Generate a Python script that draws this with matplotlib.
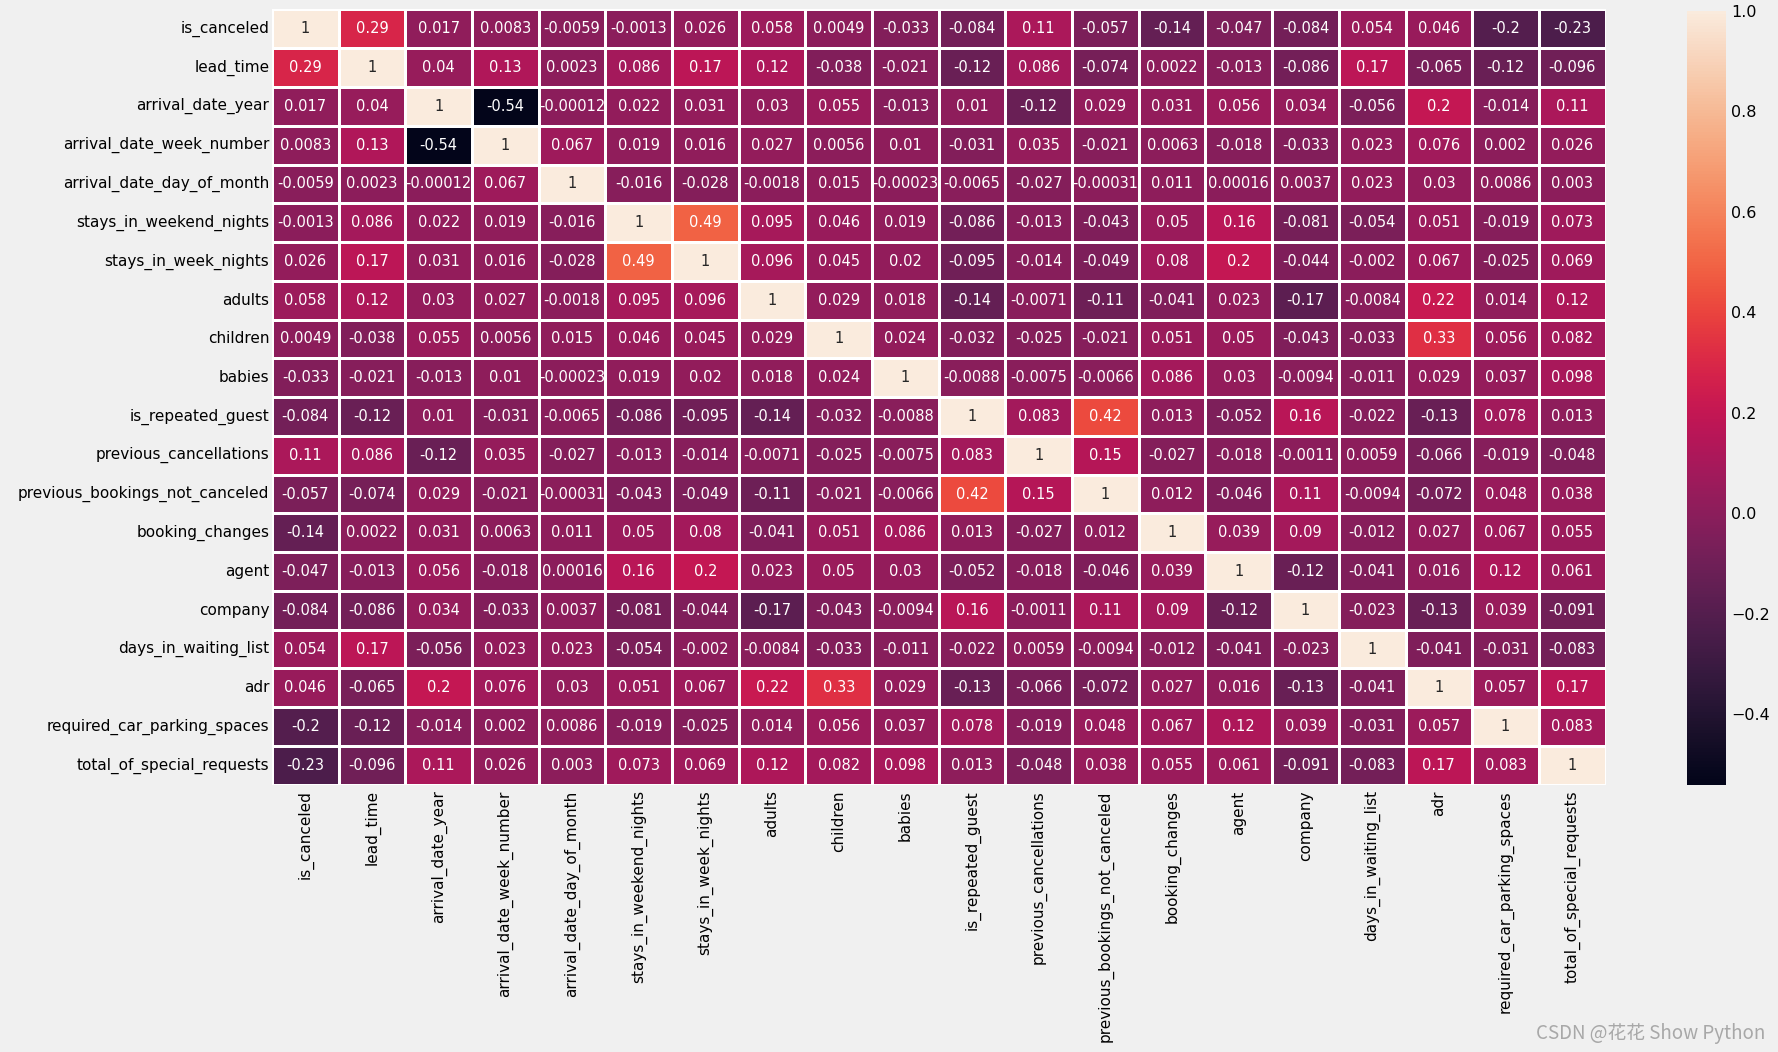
import numpy as np
import pandas as pd
import matplotlib
matplotlib.use("Agg")
import matplotlib.pyplot as plt
import seaborn as sns

# column names of the hotel bookings data
columns = [
    "is_canceled", "lead_time", "arrival_date_year", "arrival_date_week_number",
    "arrival_date_day_of_month", "stays_in_weekend_nights", "stays_in_week_nights",
    "adults", "children", "babies", "is_repeated_guest", "previous_cancellations",
    "previous_bookings_not_canceled", "booking_changes", "agent", "company",
    "days_in_waiting_list", "adr", "required_car_parking_spaces",
    "total_of_special_requests",
]

# correlation rows
is_canceled = [1, 0.29, 0.017, 0.0083, -0.0059, -0.0013, 0.026, 0.058, 0.0049, -0.033, -0.084, 0.11, -0.057, -0.14, -0.047, -0.084, 0.054, 0.046, -0.2, -0.23]
lead_time = [0.29, 1, 0.04, 0.13, 0.0023, 0.086, 0.17, 0.12, -0.038, -0.021, -0.12, 0.086, -0.074, 0.0022, -0.013, -0.086, 0.17, -0.065, -0.12, -0.096]
arrival_date_year = [0.017, 0.04, 1, -0.54, -0.00012, 0.022, 0.031, 0.03, 0.055, -0.013, 0.01, -0.12, 0.029, 0.031, 0.056, 0.034, -0.056, 0.2, -0.014, 0.11]
arrival_date_week_number = [0.0083, 0.13, -0.54, 1, 0.067, 0.019, 0.016, 0.027, 0.0056, 0.01, -0.031, 0.035, -0.021, 0.0063, -0.018, -0.033, 0.023, 0.076, 0.002, 0.026]
arrival_date_day_of_month = [-0.0059, 0.0023, -0.00012, 0.067, 1, -0.016, -0.028, -0.0018, 0.015, -0.00023, -0.0065, -0.027, -0.00031, 0.011, 0.00016, 0.0037, 0.023, 0.03, 0.0086, 0.003]
stays_in_weekend_nights = [-0.0013, 0.086, 0.022, 0.019, -0.016, 1, 0.49, 0.095, 0.046, 0.019, -0.086, -0.013, -0.043, 0.05, 0.16, -0.081, -0.054, 0.051, -0.019, 0.073]
stays_in_week_nights = [0.026, 0.17, 0.031, 0.016, -0.028, 0.49, 1, 0.096, 0.045, 0.02, -0.095, -0.014, -0.049, 0.08, 0.2, -0.044, -0.002, 0.067, -0.025, 0.069]
adults = [0.058, 0.12, 0.03, 0.027, -0.0018, 0.095, 0.096, 1, 0.029, 0.018, -0.14, -0.0071, -0.11, -0.041, 0.023, -0.17, -0.0084, 0.22, 0.014, 0.12]
children = [0.0049, -0.038, 0.055, 0.0056, 0.015, 0.046, 0.045, 0.029, 1, 0.024, -0.032, -0.025, -0.021, 0.051, 0.05, -0.043, -0.033, 0.33, 0.056, 0.082]
babies = [-0.033, -0.021, -0.013, 0.01, -0.00023, 0.019, 0.02, 0.018, 0.024, 1, -0.0088, -0.0075, -0.0066, 0.086, 0.03, -0.0094, -0.011, 0.029, 0.037, 0.098]
is_repeated_guest = [-0.084, -0.12, 0.01, -0.031, -0.0065, -0.086, -0.095, -0.14, -0.032, -0.0088, 1, 0.083, 0.42, 0.013, -0.052, 0.16, -0.022, -0.13, 0.078, 0.013]
previous_cancellations = [0.11, 0.086, -0.12, 0.035, -0.027, -0.013, -0.014, -0.0071, -0.025, -0.0075, 0.083, 1, 0.15, -0.027, -0.018, -0.0011, 0.0059, -0.066, -0.019, -0.048]
previous_bookings_not_canceled = [-0.057, -0.074, 0.029, -0.021, -0.00031, -0.043, -0.049, -0.11, -0.021, -0.0066, 0.42, 0.15, 1, 0.012, -0.046, 0.11, -0.0094, -0.072, 0.048, 0.038]
booking_changes = [-0.14, 0.0022, 0.031, 0.0063, 0.011, 0.05, 0.08, -0.041, 0.051, 0.086, 0.013, -0.027, 0.012, 1, 0.039, 0.09, -0.012, 0.027, 0.067, 0.055]
agent = [-0.047, -0.013, 0.056, -0.018, 0.00016, 0.16, 0.2, 0.023, 0.05, 0.03, -0.052, -0.018, -0.046, 0.039, 1, -0.12, -0.041, 0.016, 0.12, 0.061]
company = [-0.084, -0.086, 0.034, -0.033, 0.0037, -0.081, -0.044, -0.17, -0.043, -0.0094, 0.16, -0.0011, 0.11, 0.09, -0.12, 1, -0.023, -0.13, 0.039, -0.091]
days_in_waiting_list = [0.054, 0.17, -0.056, 0.023, 0.023, -0.054, -0.002, -0.0084, -0.033, -0.011, -0.022, 0.0059, -0.0094, -0.012, -0.041, -0.023, 1, -0.041, -0.031, -0.083]
adr = [0.046, -0.065, 0.2, 0.076, 0.03, 0.051, 0.067, 0.22, 0.33, 0.029, -0.13, -0.066, -0.072, 0.027, 0.016, -0.13, -0.041, 1, 0.057, 0.17]
required_car_parking_spaces = [-0.2, -0.12, -0.014, 0.002, 0.0086, -0.019, -0.025, 0.014, 0.056, 0.037, 0.078, -0.019, 0.048, 0.067, 0.12, 0.039, -0.031, 0.057, 1, 0.083]
total_of_special_requests = [-0.23, -0.096, 0.11, 0.026, 0.003, 0.073, 0.069, 0.12, 0.082, 0.098, 0.013, -0.048, 0.038, 0.055, 0.061, -0.091, -0.083, 0.17, 0.083, 1]

rows = [
    is_canceled, lead_time, arrival_date_year, arrival_date_week_number,
    arrival_date_day_of_month, stays_in_weekend_nights, stays_in_week_nights,
    adults, children, babies, is_repeated_guest, previous_cancellations,
    previous_bookings_not_canceled, booking_changes, agent, company,
    days_in_waiting_list, adr, required_car_parking_spaces,
    total_of_special_requests,
]


def create_visualization():
    corr = pd.DataFrame(rows, index=columns, columns=columns)

    plt.style.use("fivethirtyeight")
    plt.rcParams["font.family"] = ["DejaVu Sans", "Noto Sans CJK SC"]

    fig = plt.figure(figsize=(17.78, 10.52), dpi=100)
    ax = fig.add_axes([0.153, 0.254, 0.750, 0.737])
    cax = fig.add_axes([0.949, 0.254, 0.022, 0.736])

    sns.heatmap(corr, annot=True, fmt=".2g", linewidths=1, linecolor="white",
                ax=ax, cbar_ax=cax, annot_kws={"size": 10.5})
    ax.grid(False)
    cax.grid(False)
    ax.tick_params(axis="y", labelsize=11, pad=2)
    ax.tick_params(axis="x", labelsize=11, pad=4)
    cax.tick_params(labelsize=11.5)
    cax.set_yticks([-0.4, -0.2, 0.0, 0.2, 0.4, 0.6, 0.8, 1.0])

    fig.text(0.993, 0.008, "CSDN @花花 Show Python", ha="right", va="bottom",
             fontsize=13.5, color="#a8a8a8",
             family=["Noto Sans CJK SC", "DejaVu Sans"])

    fig.savefig("out.png", dpi=100, facecolor=fig.get_facecolor())


if __name__ == "__main__":
    create_visualization()
